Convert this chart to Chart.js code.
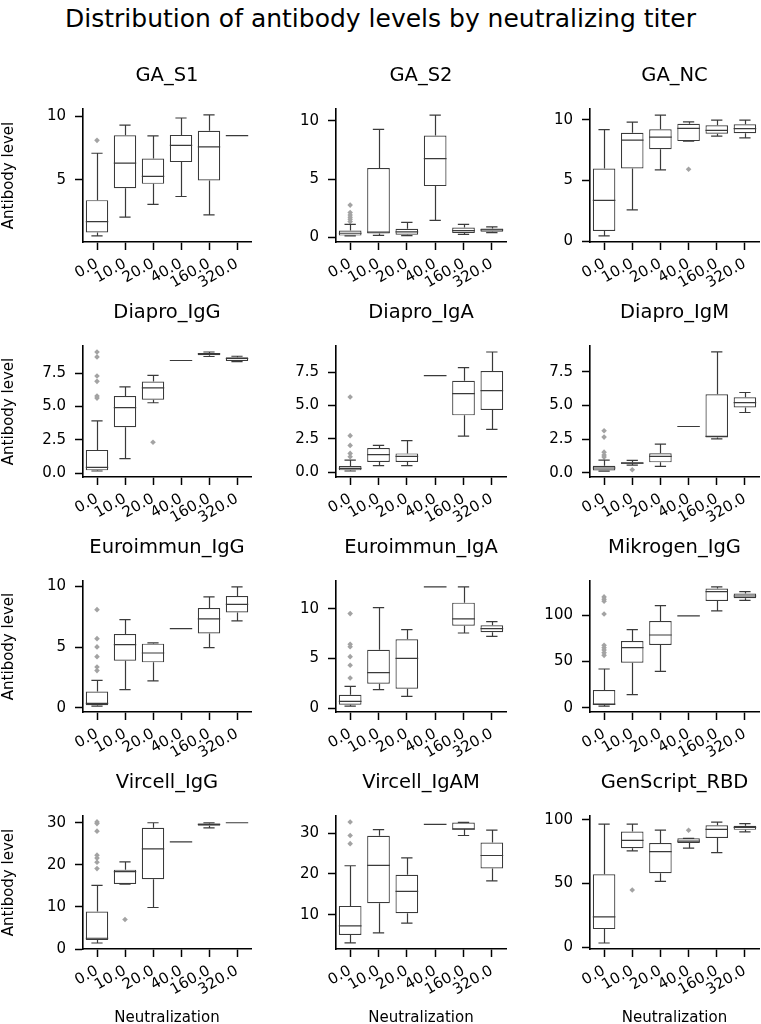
<!DOCTYPE html>
<html>
<head>
<meta charset="utf-8">
<script src="https://cdn.jsdelivr.net/npm/chart.js@4.4.0/dist/chart.umd.min.js"></script>
<style>
  html, body { margin: 0; padding: 0; background: #fff; overflow: hidden; }
  body { width: 761px; height: 1024px; position: relative; }
  #title { position: absolute; left: 0; width: 761px; top: 4px; text-align: center;
           font: 25px "DejaVu Sans"; color: #000; white-space: nowrap; }
  canvas { position: absolute; }
</style>
</head>
<body>
<div id="title">Distribution of antibody levels by neutralizing titer</div>
<script>
// neutralizing titer groups (x categories)
const titers = ["0.0", "10.0", "20.0", "40.0", "160.0", "320.0"];

const panelNames = ["GA_S1", "GA_S2", "GA_NC", "Diapro_IgG", "Diapro_IgA", "Diapro_IgM",
  "Euroimmun_IgG", "Euroimmun_IgA", "Mikrogen_IgG", "Vircell_IgG", "Vircell_IgAM", "GenScript_RBD"];

// box statistics, one row per panel, one value per titer group
const q1 = [
  [0.83, 4.33, 4.68, 6.40, 4.95, 8.49],
  [0.15, 0.32, 0.23, 4.40, 0.38, 0.47],
  [0.86, 5.99, 7.58, 8.25, 8.86, 8.89],
  [0.20, 3.45, 5.51, 8.47, 8.87, 8.44],
  [0.13, 0.75, 0.75, 7.23, 4.25, 4.65],
  [0.17, 0.67, 0.77, 3.44, 2.62, 4.85],
  [0.22, 3.90, 3.76, 6.54, 6.13, 7.86],
  [0.34, 2.45, 1.95, 12.18, 8.29, 7.62],
  [2.9, 48.7, 67.9, 99.3, 115.5, 118.4],
  [2.15, 15.43, 16.6, 25.46, 29.3, 30.0],
  [5.04, 12.8, 10.33, 32.15, 30.9, 21.3],
  [14.1, 77.6, 57.9, 81.6, 85.6, 92.0]
];
const median = [
  [1.69, 6.32, 5.27, 7.72, 7.61, 8.49],
  [0.35, 0.44, 0.47, 6.76, 0.58, 0.64],
  [3.37, 8.33, 8.58, 9.30, 9.14, 9.28],
  [0.42, 4.92, 6.41, 8.47, 8.96, 8.62],
  [0.28, 1.30, 1.18, 7.23, 5.88, 6.10],
  [0.35, 0.72, 1.21, 3.44, 2.70, 5.22],
  [0.38, 5.22, 4.53, 6.54, 7.34, 8.54],
  [0.67, 3.56, 5.00, 12.18, 8.96, 7.99],
  [4.0, 65.0, 78.7, 99.3, 125.6, 120.9],
  [2.55, 18.4, 23.8, 25.46, 29.6, 30.0],
  [7.27, 22.07, 15.7, 32.15, 30.95, 24.5],
  [23.7, 83.7, 74.9, 83.2, 92.3, 93.9]
];
const q3 = [
  [3.39, 8.52, 6.69, 8.55, 8.87, 8.49],
  [0.58, 5.95, 0.73, 8.75, 0.85, 0.76],
  [5.99, 8.94, 9.22, 9.67, 9.55, 9.64],
  [1.74, 5.79, 6.88, 8.47, 9.04, 8.72],
  [0.45, 1.80, 1.40, 7.23, 6.85, 7.58],
  [0.52, 0.77, 1.44, 3.44, 5.84, 5.62],
  [1.35, 6.10, 5.30, 6.54, 8.24, 9.23],
  [1.34, 5.87, 6.91, 12.18, 10.60, 8.32],
  [19.1, 72.2, 93.9, 99.3, 128.9, 123.5],
  [8.91, 18.85, 28.8, 25.46, 29.8, 30.0],
  [12.15, 29.34, 19.75, 32.15, 32.6, 27.7],
  [57.1, 90.7, 81.6, 85.3, 95.5, 95.2]
];
const whiskerLow = [
  [0.56, 2.04, 3.06, 3.68, 2.23, 8.49],
  [0.12, 0.17, 0.15, 1.46, 0.26, 0.41],
  [0.45, 2.59, 5.88, 8.25, 8.66, 8.52],
  [0.15, 1.09, 5.29, 8.47, 8.77, 8.39],
  [0.08, 0.48, 0.48, 7.23, 2.70, 3.20],
  [0.12, 0.57, 0.47, 3.44, 2.52, 4.48],
  [0.16, 1.51, 2.23, 6.54, 4.97, 7.17],
  [0.20, 1.85, 1.17, 12.18, 7.55, 7.21],
  [1.8, 14.1, 39.4, 99.3, 104.7, 116.2],
  [1.43, 15.43, 9.86, 25.46, 28.8, 30.0],
  [3.06, 5.54, 7.93, 32.15, 29.4, 18.3],
  [3.2, 75.5, 51.5, 77.6, 74.1, 90.4]
];
const whiskerHigh = [
  [7.10, 9.33, 8.47, 9.89, 10.13, 8.49],
  [1.11, 9.27, 1.28, 10.5, 1.11, 0.90],
  [9.19, 9.81, 10.39, 9.83, 9.97, 9.97],
  [3.92, 6.48, 7.35, 8.47, 9.11, 8.79],
  [0.90, 2.00, 2.35, 7.23, 7.83, 9.00],
  [0.94, 0.92, 2.13, 3.44, 8.99, 5.97],
  [2.28, 7.28, 5.36, 6.54, 9.15, 9.97],
  [2.18, 10.1, 7.89, 12.18, 12.18, 8.69],
  [41.9, 84.5, 110.5, 99.3, 130.7, 125.6],
  [15.1, 20.7, 30.0, 25.46, 30.0, 30.0],
  [21.98, 30.83, 23.9, 32.15, 32.6, 30.7],
  [96.5, 96.5, 91.7, 85.3, 98.1, 96.8]
];
// outliers as [titer index, value]
const outliers = [
  [[0, 8.12]],
  [[0, 2.77], [0, 2.13], [0, 1.92], [0, 1.72], [0, 1.55], [0, 1.35]],
  [[3, 5.93]],
  [[0, 9.11], [0, 8.74], [0, 7.30], [0, 6.90], [0, 5.79], [0, 5.64], [2, 2.31]],
  [[0, 5.63], [0, 2.73], [0, 2.0], [0, 1.4], [0, 1.15]],
  [[0, 3.12], [0, 2.65], [0, 1.53], [0, 1.31], [0, 1.16], [1, 0.22]],
  [[0, 8.1], [0, 5.71], [0, 5.03], [0, 4.23], [0, 3.38], [0, 3.08]],
  [[0, 9.5], [0, 6.41], [0, 6.17], [0, 5.17], [0, 4.3], [0, 3.02]],
  [[0, 119.9], [0, 117.3], [0, 115.2], [0, 101.4], [0, 67.5], [0, 65], [0, 62.5], [0, 59.6], [0, 56.7]],
  [[0, 30.2], [0, 29.8], [0, 28.0], [0, 22.3], [0, 21.6], [0, 20.6], [0, 19.1], [1, 7.0]],
  [[0, 32.7], [0, 29.4], [0, 27.4]],
  [[1, 44.8], [3, 91.7]]
];

// y axis ranges and ticks
const yMin = [0.08, -0.4, -0.05, -0.3, -0.37, -0.32, -0.33, -0.4, -4.6, 0, 1.58, -1.5];
const yMax = [10.6, 11.02, 10.89, 9.56, 9.45, 9.43, 10.46, 12.78, 137.1, 31.6, 34.18, 102.85];
const yTicks = [
  [5, 10], [0, 5, 10], [0, 5, 10],
  [0, 2.5, 5, 7.5], [0, 2.5, 5, 7.5], [0, 2.5, 5, 7.5],
  [0, 5, 10], [0, 5, 10], [0, 50, 100],
  [0, 10, 20, 30], [10, 20, 30], [0, 50, 100]
];
const yDecimals = [0, 0, 0, 1, 1, 1, 0, 0, 0, 0, 0, 0];

// grid layout (pixels)
const colX = [83, 336, 590];
const colW = [168, 170, 169];
const rowTop = [109, 346, 581, 816];
const rowH = [133, 131, 131, 133];
const YW = 83, TOP = 49, XH = 80, RP = 4;
const lineColor = "#3a3a3a";

Chart.defaults.font.family = "DejaVu Sans";
Chart.defaults.color = "#000";

const boxLines = {
  id: "boxLines",
  afterDatasetsDraw(chart, args, opts) {
    const k = opts.panel;
    const y = chart.scales.y;
    const ctx = chart.ctx;
    const bars = chart.getDatasetMeta(0).data;
    ctx.save();
    ctx.strokeStyle = lineColor;
    ctx.lineWidth = 1.2;
    bars.forEach((bar, i) => {
      const half = bar.width / 2;
      const cx = Math.round(bar.x) + 0.5;
      const yMed = y.getPixelForValue(median[k][i]);
      const yQ1 = y.getPixelForValue(q1[k][i]);
      const yQ3 = y.getPixelForValue(q3[k][i]);
      const yLo = y.getPixelForValue(whiskerLow[k][i]);
      const yHi = y.getPixelForValue(whiskerHigh[k][i]);
      ctx.beginPath();
      ctx.moveTo(bar.x - half, yMed); ctx.lineTo(bar.x + half, yMed);
      ctx.moveTo(cx, yQ3); ctx.lineTo(cx, yHi);
      ctx.moveTo(cx, yQ1); ctx.lineTo(cx, yLo);
      ctx.moveTo(bar.x - half / 2, yHi); ctx.lineTo(bar.x + half / 2, yHi);
      ctx.moveTo(bar.x - half / 2, yLo); ctx.lineTo(bar.x + half / 2, yLo);
      ctx.stroke();
    });
    ctx.restore();
  }
};

panelNames.forEach((name, k) => {
  const col = k % 3, row = Math.floor(k / 3);
  const canvas = document.createElement("canvas");
  const w = YW + colW[col] + RP;
  const h = TOP + rowH[row] + XH;
  canvas.width = w;
  canvas.height = h;
  canvas.style.left = (colX[col] - YW) + "px";
  canvas.style.top = (rowTop[row] - TOP) + "px";
  document.body.appendChild(canvas);

  new Chart(canvas, {
    type: "bar",
    data: {
      labels: titers,
      datasets: [
        {
          data: titers.map((t, i) => [q1[k][i], q3[k][i]]),
          backgroundColor: "#ffffff",
          borderColor: lineColor,
          borderWidth: 1.2,
          borderSkipped: false,
          barPercentage: 0.8,
          categoryPercentage: 1.0,
          order: 2,
        },
        {
          type: "line",
          data: outliers[k].map(p => ({ x: titers[p[0]], y: p[1] })),
          showLine: false,
          pointStyle: "rectRot",
          pointRadius: 2.8,
          pointBackgroundColor: "#a3a3a3",
          pointBorderColor: "#a3a3a3",
          pointBorderWidth: 0,
          order: 1,
        },
      ],
    },
    options: {
      responsive: false,
      animation: false,
      layout: { padding: { top: 4, right: RP, left: 0, bottom: 0 } },
      plugins: {
        legend: { display: false },
        tooltip: { enabled: false },
        title: {
          display: true,
          text: name,
          fullSize: false,
          color: "#000",
          font: { size: 19.5, weight: "normal" },
          padding: { top: 0, bottom: 21.6 },
        },
        boxLines: { panel: k },
      },
      scales: {
        x: {
          type: "category",
          offset: true,
          grid: { display: true, offset: false, drawOnChartArea: false, drawTicks: true,
                  tickLength: 8, tickWidth: 1.5, tickColor: "#000" },
          border: { display: true, color: "#000", width: 1.6 },
          ticks: { autoSkip: false, minRotation: 30, maxRotation: 30, padding: 5,
                   color: "#000", font: { size: 15 } },
          title: { display: row === 3, text: "Neutralization", color: "#000",
                   font: { size: 15 }, padding: { top: 0, bottom: 2 } },
          afterFit: s => { s.height = XH; },
        },
        y: {
          min: yMin[k],
          max: yMax[k],
          grid: { display: true, drawOnChartArea: false, drawTicks: true,
                  tickLength: 8, tickWidth: 1.5, tickColor: "#000" },
          border: { display: true, color: "#000", width: 1.6 },
          afterBuildTicks: s => { s.ticks = yTicks[k].map(v => ({ value: v })); },
          ticks: { padding: 9, color: "#000", font: { size: 15 },
                   callback: v => Number(v).toFixed(yDecimals[k]) },
          title: { display: col === 0, text: "Antibody level", color: "#000",
                   font: { size: 15 }, padding: { top: 0, bottom: 0 } },
          afterFit: s => { s.width = YW; },
        },
      },
    },
    plugins: [boxLines],
  });
});
</script>
</body>
</html>
